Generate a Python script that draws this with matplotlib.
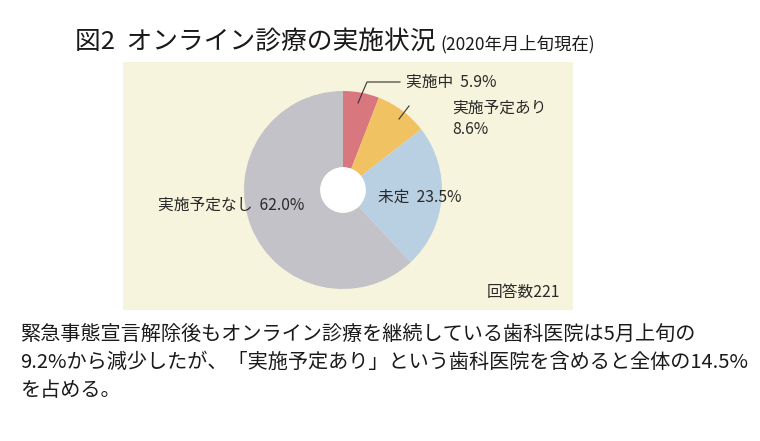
import matplotlib.pyplot as plt
from matplotlib.patches import Rectangle, Circle

plt.rcParams['font.family'] = ['Noto Sans CJK JP', 'DejaVu Sans']

# data (clockwise from 12 o'clock)
labels = ["実施中", "実施予定あり", "未定", "実施予定なし"]
shares = [5.9, 8.6, 23.5, 62.0]
colors = ["#d8787e", "#f0c262", "#b9d0e2", "#c2c2c8"]
n_answers = 221

title = "図2  オンライン診療の実施状況"
subtitle = "(2020年月上旬現在)"
body = ["緊急事態宣言解除後もオンライン診療を継続している歯科医院は5月上旬の",
        "9.2%から減少したが、「実施予定あり」という歯科医院を含めると全体の14.5%",
        "を占める。"]

W, H = 760, 441
fig = plt.figure(figsize=(W / 100, H / 100), dpi=100)
fig.patch.set_facecolor("white")


def fx(px):
    return px / W


def fy(py):
    return 1 - py / H


# beige panel
fig.patches.append(Rectangle((fx(123), fy(310)), fx(573) - fx(123), fy(62) - fy(310),
                             transform=fig.transFigure, facecolor="#f6f4dc",
                             edgecolor="none", zorder=-5))

# donut
cx, cy, r = 343, 190, 99
ax = fig.add_axes([fx(cx - r), fy(cy + r), 2 * r / W, 2 * r / H])
ax.set_zorder(2)
ax.patch.set_visible(False)
wedges, _ = ax.pie(shares, colors=colors, startangle=90, counterclock=False,
                   wedgeprops=dict(width=1 - 0.23, edgecolor="none"))
ax.add_patch(Circle((0, 0), 0.23, facecolor="white", edgecolor="none"))
ax.set_aspect("auto")
ax.set_xlim(-1, 1)
ax.set_ylim(-1, 1)
ax.axis("off")

# leader lines
fig.add_artist(plt.Line2D([fx(358), fx(367), fx(400)], [fy(103), fy(82), fy(82)],
                          color="#333333", lw=0.8, zorder=3))
fig.add_artist(plt.Line2D([fx(399), fx(409)], [fy(119), fy(106)],
                          color="#333333", lw=0.8, zorder=3))

lab_kw = dict(fontsize=11.3, color="#2a2a2a", va="center", ha="left", zorder=4)
fig.text(fx(406), fy(82), f"{labels[0]}  {shares[0]}%", **lab_kw)
fig.text(fx(452), fy(108), labels[1], **lab_kw)
fig.text(fx(452), fy(130), f"{shares[1]}%", **lab_kw)
fig.text(fx(378), fy(197), f"{labels[2]}  {shares[2]}%", **lab_kw)
fig.text(fx(158), fy(205), f"{labels[3]}  {shares[3]}%", **lab_kw)
fig.text(fx(487), fy(292), f"回答数{n_answers}", **lab_kw)

# title
fig.text(fx(75), fy(42), title, fontsize=18.5, color="#1a1a1a", va="center", ha="left")
fig.text(fx(440), fy(44), subtitle, fontsize=12.5, color="#1a1a1a", va="center", ha="left")

# body text
for i, line in enumerate(body):
    fig.text(fx(20), fy(334 + i * 28.5), line, fontsize=14.5, color="#1a1a1a",
             va="center", ha="left")

fig.savefig("out.png", dpi=100)
